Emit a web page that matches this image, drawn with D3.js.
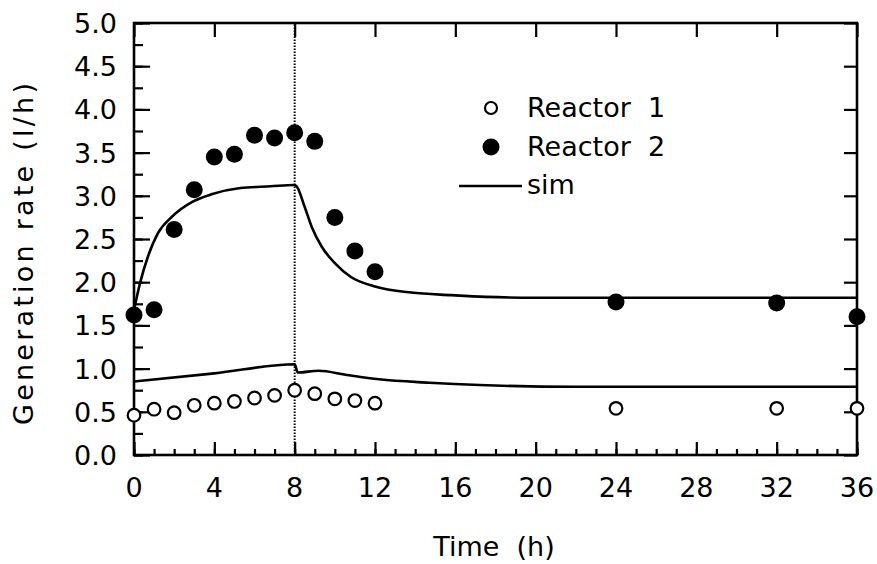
<!DOCTYPE html>
<html>
<head>
<meta charset="utf-8">
<script src="https://cdn.jsdelivr.net/npm/d3@7"></script>
<style>
  body { margin: 0; background: #fff; }
  text { font-family: "DejaVu Sans", sans-serif; fill: #000; white-space: pre; }
</style>
</head>
<body>
<svg id="chart" width="877" height="564"></svg>
<script>
// measured points
var hours = [0, 1, 2, 3, 4, 5, 6, 7, 8, 9, 10, 11, 12, 24, 32, 36];
var reactor1 = [0.46, 0.53, 0.49, 0.575, 0.60, 0.62, 0.66, 0.69, 0.75, 0.71, 0.65, 0.63, 0.60, 0.54, 0.54, 0.54];
var reactor2 = [1.62, 1.68, 2.61, 3.07, 3.45, 3.48, 3.70, 3.67, 3.73, 3.63, 2.75, 2.36, 2.12, 1.77, 1.76, 1.60];

// simulated curves
var simT2 = [0, 0.3, 0.7, 1.2, 1.9, 2.9, 3.9, 5.3, 6.8, 8.0, 8.1, 8.5, 8.85, 9.35, 10.0, 10.8, 12.0, 13.8, 15.8, 17.5, 20, 36];
var simR2 = [1.68, 1.99, 2.30, 2.57, 2.76, 2.93, 3.02, 3.09, 3.11, 3.125, 3.11, 2.87, 2.64, 2.41, 2.22, 2.06, 1.95, 1.88, 1.85, 1.83, 1.82, 1.82];
var simT1 = [0, 4, 8.0, 8.15, 9.2, 10.6, 12.2, 14.7, 17.2, 22, 36];
var simR1 = [0.85, 0.945, 1.05, 0.955, 0.975, 0.926, 0.876, 0.837, 0.81, 0.79, 0.79];

var xTicks = [0, 4, 8, 12, 16, 20, 24, 28, 32, 36];
var yTicks = [0, 0.5, 1, 1.5, 2, 2.5, 3, 3.5, 4, 4.5, 5];
var legendNames = ["Reactor  1", "Reactor  2", "sim"];

var svg = d3.select("#chart");
var pLeft = 134, pRight = 857, pTop = 23, pBottom = 455;

var x = d3.scaleLinear().domain([0, 36]).range([pLeft, pRight]);
var y = d3.scaleLinear().domain([0, 5]).range([pBottom, pTop]);

// axes, ticks pointing inward
var g = svg.append("g");

g.append("g").attr("transform", "translate(0," + pBottom + ")")
  .call(d3.axisTop(x).tickValues(d3.range(0, 37, 1)).tickSize(6).tickFormat(""));
g.append("g").attr("transform", "translate(0," + pBottom + ")")
  .call(d3.axisTop(x).tickValues(xTicks).tickSize(13).tickFormat(""));
g.append("g").attr("transform", "translate(0," + pTop + ")")
  .call(d3.axisBottom(x).tickValues(xTicks).tickSize(14).tickFormat(""));
g.append("g").attr("transform", "translate(" + pLeft + ",0)")
  .call(d3.axisRight(y).tickValues(d3.range(0, 5.01, 0.25)).tickSize(9).tickFormat(""));
g.append("g").attr("transform", "translate(" + pLeft + ",0)")
  .call(d3.axisRight(y).tickValues(yTicks).tickSize(16).tickFormat(""));
g.append("g").attr("transform", "translate(" + pRight + ",0)")
  .call(d3.axisLeft(y).tickValues(yTicks).tickSize(13).tickFormat(""));
g.selectAll(".domain").remove();
g.selectAll("line").attr("stroke", "#000").attr("stroke-width", 2.2);

svg.append("rect")
  .attr("x", pLeft).attr("y", pTop)
  .attr("width", pRight - pLeft).attr("height", pBottom - pTop)
  .attr("fill", "none").attr("stroke", "#000").attr("stroke-width", 2.6);

// tick labels
svg.selectAll(".xl").data(xTicks).enter().append("text")
  .attr("x", function(d){ return x(d); })
  .attr("y", 497)
  .attr("text-anchor", "middle")
  .attr("font-size", 27)
  .text(function(d){ return d; });

svg.selectAll(".yl").data(yTicks).enter().append("text")
  .attr("x", 117)
  .attr("y", function(d){ return y(d) + 10; })
  .attr("text-anchor", "end")
  .attr("font-size", 27)
  .text(function(d){ return d.toFixed(1); });

// axis titles
svg.append("text")
  .attr("x", 494).attr("y", 556)
  .attr("text-anchor", "middle")
  .attr("font-size", 27)
  .text("Time  (h)");

svg.append("text")
  .attr("transform", "translate(33,254) rotate(-90)")
  .attr("text-anchor", "middle")
  .attr("font-size", 27)
  .attr("textLength", 342)
  .attr("lengthAdjust", "spacing")
  .text("Generation rate (l/h)");

// dotted line at the switch time
svg.append("line")
  .attr("x1", x(8)).attr("x2", x(8))
  .attr("y1", pBottom).attr("y2", pTop)
  .attr("stroke", "#000").attr("stroke-width", 2)
  .attr("stroke-dasharray", "1.5,1.5");

// sim lines
var line = d3.line().curve(d3.curveMonotoneX)
  .x(function(d){ return x(d[0]); })
  .y(function(d){ return y(d[1]); });

svg.append("path")
  .attr("d", line(d3.zip(simT2, simR2)))
  .attr("fill", "none").attr("stroke", "#000").attr("stroke-width", 2.6);
svg.append("path")
  .attr("d", line(d3.zip(simT1, simR1)))
  .attr("fill", "none").attr("stroke", "#000").attr("stroke-width", 2.6);

// points
svg.selectAll(".r1").data(d3.zip(hours, reactor1)).enter().append("circle")
  .attr("cx", function(d){ return x(d[0]); })
  .attr("cy", function(d){ return y(d[1]); })
  .attr("r", 6.3)
  .attr("fill", "#fff").attr("stroke", "#000").attr("stroke-width", 2.2);

svg.selectAll(".r2").data(d3.zip(hours, reactor2)).enter().append("circle")
  .attr("cx", function(d){ return x(d[0]); })
  .attr("cy", function(d){ return y(d[1]); })
  .attr("r", 8.5)
  .attr("fill", "#000");

// legend
var leg = svg.append("g");
leg.append("circle").attr("cx", 491).attr("cy", 108).attr("r", 6)
  .attr("fill", "#fff").attr("stroke", "#000").attr("stroke-width", 2.2);
leg.append("circle").attr("cx", 491).attr("cy", 147).attr("r", 8.5)
  .attr("fill", "#000");
leg.append("line").attr("x1", 459).attr("x2", 522).attr("y1", 186).attr("y2", 186)
  .attr("stroke", "#000").attr("stroke-width", 2.6);
leg.selectAll("text").data(legendNames).enter().append("text")
  .attr("x", 527)
  .attr("y", function(d, i){ return 117 + i * 38.5; })
  .attr("font-size", 27)
  .text(function(d){ return d; });
</script>
</body>
</html>
